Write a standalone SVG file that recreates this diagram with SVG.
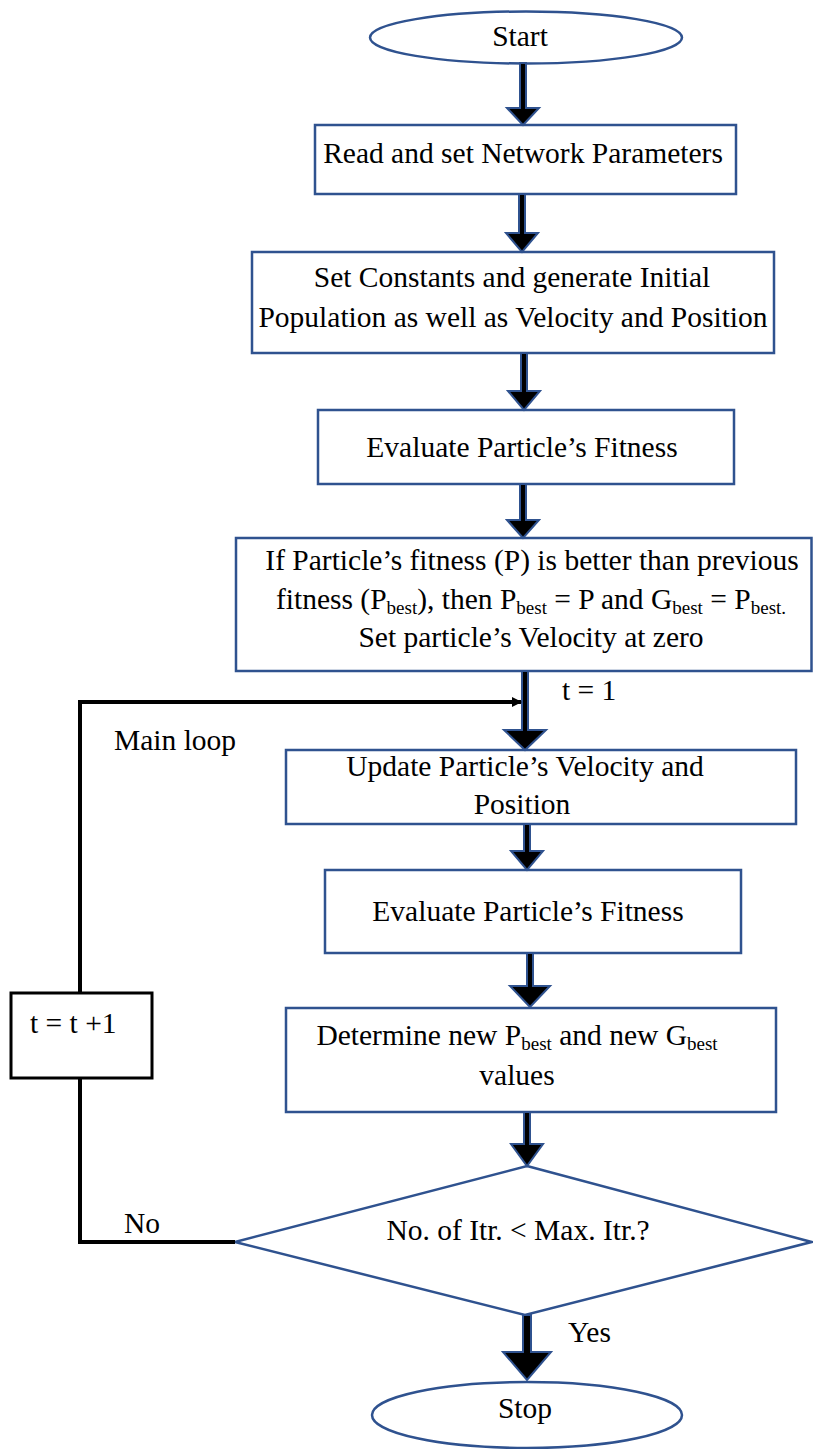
<svg xmlns="http://www.w3.org/2000/svg" width="813" height="1449" viewBox="0 0 813 1449">
<style>
.shape{fill:#fff;stroke:#2F528F;stroke-width:2.5}
.plain{fill:#fff;stroke:#000;stroke-width:3}
.blk{fill:#000;stroke:#2F528F;stroke-width:2;stroke-linejoin:miter}
.line{fill:none;stroke:#000;stroke-width:4}
text{font-family:"Liberation Serif","Times New Roman",serif;font-size:29.5px;fill:#000}
.c{text-anchor:middle}
.sub{font-size:19px}
</style>
<defs>
<marker id="ah" markerWidth="10" markerHeight="10" refX="9" refY="5" orient="auto" markerUnits="userSpaceOnUse">
<path d="M0,0 L10,5 L0,10 Z" fill="#000"/>
</marker>
</defs>
<rect width="813" height="1449" fill="#fff"/>

<g id="start">
<ellipse class="shape" cx="526" cy="37.5" rx="156" ry="26"/>
<text class="c" x="520" y="46">Start</text>
</g>

<g id="read-params">
<rect class="shape" x="315" y="125" width="421" height="69"/>
<text class="c" x="523" y="163">Read and set Network Parameters</text>
</g>

<g id="init-pop">
<rect class="shape" x="252" y="252" width="522" height="101"/>
<text class="c" x="512" y="287">Set Constants and generate Initial</text>
<text class="c" x="513" y="327">Population as well as Velocity and Position</text>
</g>

<g id="eval-1">
<rect class="shape" x="318" y="410" width="416" height="74"/>
<text class="c" x="522" y="457">Evaluate Particle’s Fitness</text>
</g>

<g id="pbest-init">
<rect class="shape" x="236" y="538" width="575.5" height="133"/>
<text class="c" x="532" y="570">If Particle’s fitness (P) is better than previous</text>
<text class="c" x="531" y="609">fitness (P<tspan class="sub" dy="5">best</tspan><tspan dy="-5">), then P</tspan><tspan class="sub" dy="5">best</tspan><tspan dy="-5"> = P and G</tspan><tspan class="sub" dy="5">best</tspan><tspan dy="-5"> = P</tspan><tspan class="sub" dy="5">best.</tspan></text>
<text class="c" x="531" y="647">Set particle’s Velocity at zero</text>
</g>

<g id="update">
<rect class="shape" x="286" y="750" width="510" height="74"/>
<text class="c" x="525" y="776">Update Particle’s Velocity and</text>
<text class="c" x="522" y="814">Position</text>
</g>

<g id="eval-2">
<rect class="shape" x="325" y="870" width="416" height="83"/>
<text class="c" x="528" y="921">Evaluate Particle’s Fitness</text>
</g>

<g id="determine">
<rect class="shape" x="286" y="1008" width="490" height="104"/>
<text class="c" x="517" y="1045">Determine new P<tspan class="sub" dy="5">best</tspan><tspan dy="-5"> and new G</tspan><tspan class="sub" dy="5">best</tspan></text>
<text class="c" x="517" y="1085">values</text>
</g>

<g id="decision">
<polygon class="shape" points="527,1166 811.5,1242 525,1315 235,1242"/>
<text class="c" x="518" y="1240">No. of Itr. &lt; Max. Itr.?</text>
</g>

<g id="increment">
<rect class="plain" x="11" y="993" width="141" height="85"/>
<text x="30" y="1033">t = t +1</text>
</g>

<g id="stop">
<ellipse class="shape" cx="527" cy="1415" rx="155" ry="33"/>
<text class="c" x="525" y="1418">Stop</text>
</g>

<g id="connectors">
<path class="blk" d="M520,63 L526,63 L526,108 L539,108 L523,125 L507,108 L520,108 Z"/>
<path class="blk" d="M519,194 L525,194 L525,233 L538,233 L522,252 L506,233 L519,233 Z"/>
<path class="blk" d="M521,353 L527,353 L527,391 L540,391 L524,410 L508,391 L521,391 Z"/>
<path class="blk" d="M520,484 L526,484 L526,520 L539,520 L523,538 L507,520 L520,520 Z"/>
<path class="blk" d="M522,671 L528,671 L528,730 L546,730 L525,750 L504,730 L522,730 Z"/>
<path class="blk" d="M524,824 L530,824 L530,851 L543,851 L527,870 L511,851 L524,851 Z"/>
<path class="blk" d="M527,953 L533,953 L533,986 L550,986 L530,1007 L510,986 L527,986 Z"/>
<path class="blk" d="M524,1112 L530,1112 L530,1144 L543,1144 L527,1166 L511,1144 L524,1144 Z"/>
<path class="blk" d="M523,1315 L531,1315 L531,1352 L551,1352 L527,1380 L503,1352 L523,1352 Z"/>
<polyline class="line" points="235,1242 80,1242 80,1078"/>
<polyline class="line" points="80,993 80,702 521,702" marker-end="url(#ah)"/>
<text x="562" y="700">t = 1</text>
<text x="114" y="750">Main loop</text>
<text x="124" y="1233">No</text>
<text x="568" y="1342">Yes</text>
</g>
</svg>
